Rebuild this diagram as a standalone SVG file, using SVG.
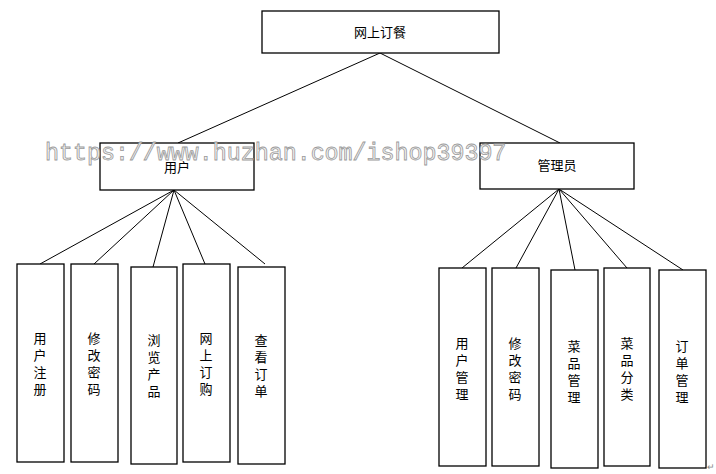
<svg xmlns="http://www.w3.org/2000/svg" width="716" height="474" viewBox="0 0 716 474">
<style>
rect{fill:#fff;stroke:#000;stroke-width:1.3}
.c line{stroke:#000;stroke-width:1}
text{font-family:"Noto Sans CJK SC","Liberation Sans",sans-serif;font-size:13px;fill:#000;text-anchor:middle}
.v{writing-mode:vertical-rl;letter-spacing:4px;text-anchor:start}
.wm{font-family:"Liberation Mono",monospace;font-size:23.3px;fill:#f4f4f4;stroke:#9a9a9a;stroke-width:0.8;text-anchor:start}
</style>
<rect width="716" height="474" style="fill:#fff;stroke:none"/>
<g class="c">
<line x1="380" y1="53" x2="178" y2="143"/><line x1="380" y1="53" x2="560" y2="143"/>
<line x1="174" y1="190" x2="40" y2="264"/><line x1="174" y1="190" x2="94" y2="264"/><line x1="174" y1="190" x2="153" y2="267"/><line x1="174" y1="190" x2="205" y2="264"/><line x1="174" y1="190" x2="265" y2="264"/>
<line x1="559" y1="189" x2="462" y2="268"/><line x1="559" y1="189" x2="516" y2="268"/><line x1="559" y1="189" x2="575" y2="270"/><line x1="559" y1="189" x2="627" y2="268"/><line x1="559" y1="189" x2="683" y2="270"/>
</g>
<g id="root"><rect x="262" y="11" width="237" height="42"/><text x="380" y="37">网上订餐</text></g>
<g id="user"><rect x="100" y="143" width="154" height="47"/><text x="177" y="172">用户</text></g>
<g id="admin"><rect x="480" y="143" width="154" height="46"/><text x="557" y="170">管理员</text></g>
<g id="u1"><rect x="17" y="264" width="47" height="198"/><text class="v" x="40" y="332">用户注册</text></g>
<g id="u2"><rect x="71" y="264" width="47" height="198"/><text class="v" x="94" y="332">修改密码</text></g>
<g id="u3"><rect x="131" y="267" width="46" height="197"/><text class="v" x="154" y="334">浏览产品</text></g>
<g id="u4"><rect x="183" y="264" width="47" height="198"/><text class="v" x="206" y="332">网上订购</text></g>
<g id="u5"><rect x="238" y="267" width="47" height="197"/><text class="v" x="261" y="334">查看订单</text></g>
<g id="a1"><rect x="439" y="268" width="47" height="198"/><text class="v" x="462" y="337">用户管理</text></g>
<g id="a2"><rect x="492" y="268" width="47" height="198"/><text class="v" x="515" y="337">修改密码</text></g>
<g id="a3"><rect x="551" y="270" width="47" height="198"/><text class="v" x="574" y="340">菜品管理</text></g>
<g id="a4"><rect x="604" y="268" width="46" height="198"/><text class="v" x="627" y="337">菜品分类</text></g>
<g id="a5"><rect x="659" y="270" width="47" height="198"/><text class="v" x="682" y="340">订单管理</text></g>
<text class="wm" x="45" y="160">https://www.huzhan.com/ishop39397</text>
<text x="711" y="470" style="font-size:9px;fill:#888">↵</text>
</svg>
